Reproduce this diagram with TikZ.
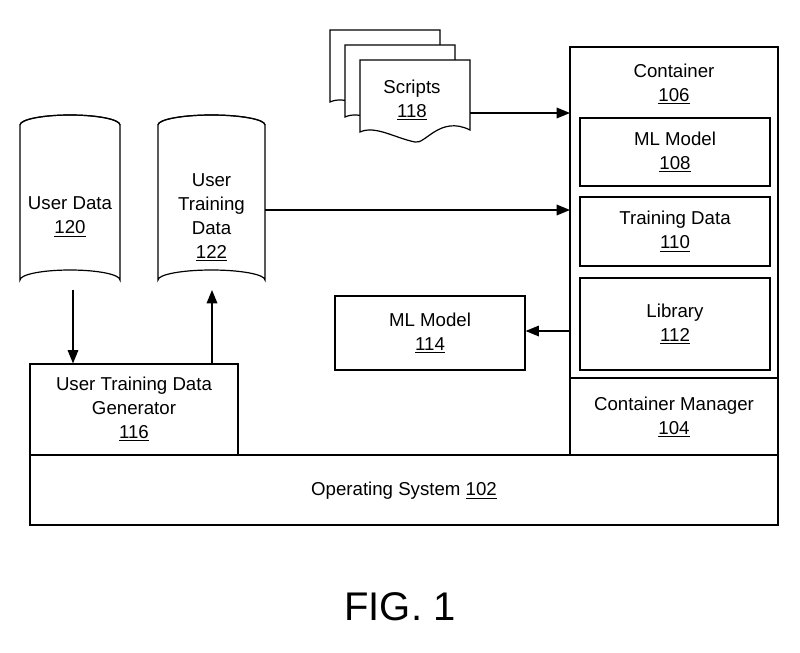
\documentclass[tikz,border=0pt]{standalone}
\usepackage{fontspec}
\setmainfont{Liberation Sans}
\usetikzlibrary{arrows.meta}
\begin{document}
\begin{tikzpicture}[x=0.75pt,y=-0.75pt,
  box/.style={draw,line width=0.9pt,fill=white,inner sep=0},
  lbl/.style={font=\fontsize{14}{18}\selectfont,align=center},
  arr/.style={-{Triangle[length=10pt,width=8pt]},line width=0.9pt}]
\useasboundingbox (0,0) rectangle (800,653);
% OS
\node[box,minimum width=748*0.75pt,minimum height=70*0.75pt] (os) at (404,490) {};
\node[lbl] at (404,491) {Operating System \underline{102}};
% container manager outer
\draw[line width=0.9pt] (570,455) rectangle (778,47);
\draw[line width=0.9pt] (570,378) -- (778,378);
\node[lbl] (cm) at (674,417) {Container Manager\\\underline{104}};
\node[lbl] (ct) at (674,84) {Container\\\underline{106}};
\coordinate (cleft) at (570,113);
\coordinate (cleft2) at (570,210);
\coordinate (cleft3) at (570,331);
\node[box,lbl,minimum width=190*0.75pt,minimum height=68*0.75pt] (m108) at (675,152) {ML Model\\\underline{108}};
\node[box,lbl,minimum width=190*0.75pt,minimum height=69*0.75pt] (t110) at (675,231.5) {Training Data\\\underline{110}};
\node[box,lbl,minimum width=190*0.75pt,minimum height=92*0.75pt] (l112) at (675,324) {Library\\\underline{112}};
\node[box,lbl,minimum width=190*0.75pt,minimum height=74*0.75pt] (m114) at (430,333) {ML Model\\\underline{114}};
\draw[arr] (cleft3) -- (m114.east |- cleft3);
% generator
\node[box,minimum width=208*0.75pt,minimum height=91*0.75pt] (gen) at (134,409.5) {};
\node[lbl] at (134,409) {User Training Data\\Generator\\\underline{116}};
% cylinders
\foreach \cx/\w in {70/50,211.5/53.5}{
  \draw[line width=0.9pt,fill=white] (\cx-\w,125) -- (\cx-\w,280) arc[start angle=180,end angle=360,x radius=\w,y radius=10] -- (\cx+\w,125) arc[start angle=0,end angle=-180,x radius=\w,y radius=10] -- cycle;
  \draw[line width=0.9pt] (\cx-\w,125) arc[start angle=180,end angle=360,x radius=\w,y radius=10];
}
\node[minimum width=100*0.75pt,minimum height=175*0.75pt] (u120) at (70,202.5) {};
\node[minimum width=107*0.75pt,minimum height=175*0.75pt] (u122) at (211.5,202.5) {};
\node[lbl] at (70,217) {User Data\\\underline{120}};
\node[lbl] at (211.5,217) {User\\Training\\Data\\\underline{122}};
\draw[arr] (73,290) -- (gen.north -| 73,0);
\draw[arr] (gen.north -| 212,0) -- (212,290);
\draw[arr] (u122.east |- cleft2) -- (cleft2);
% scripts
\foreach \ox in {0,15,30}{
  \draw[line width=0.9pt,fill=white] (330+\ox,30+\ox) -- (440+\ox,30+\ox) -- (440+\ox,100+\ox)
    .. controls (410+\ox,85+\ox) and (395+\ox,115+\ox) .. (385+\ox,112+\ox)
    .. controls (365+\ox,108+\ox) and (345+\ox,95+\ox) .. (330+\ox,102+\ox) -- cycle;
}
\node[lbl] (s118) at (412,100) {Scripts\\\underline{118}};
\draw[arr] (470,113) -- (cleft);
\node[font=\fontsize{30}{34}\selectfont] (fig) at (400,607) {FIG. 1};
\end{tikzpicture}
\end{document}
